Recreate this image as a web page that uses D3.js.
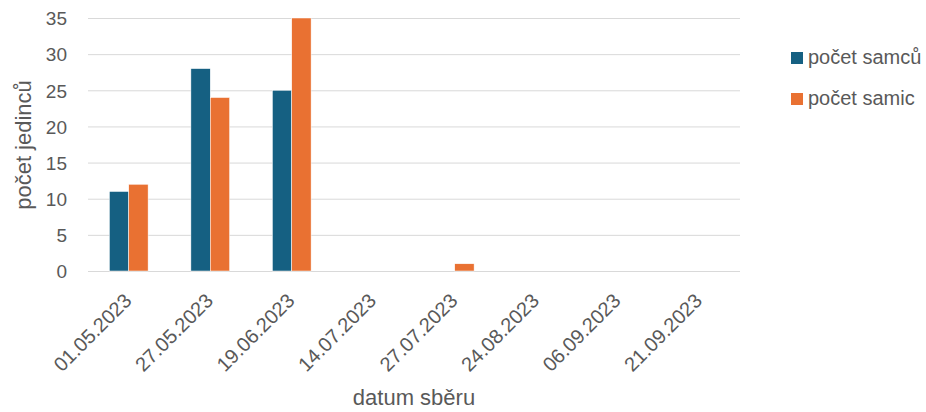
<!DOCTYPE html>
<html>
<head>
<meta charset="utf-8">
<script src="https://cdn.jsdelivr.net/npm/d3@7"></script>
<style>
  body { margin: 0; background: #fff; }
  text { font-family: "Liberation Sans", Arial, sans-serif; fill: #595959; }
</style>
</head>
<body>
<svg width="926" height="412"></svg>
<script>
var dates = ["01.05.2023", "27.05.2023", "19.06.2023", "14.07.2023", "27.07.2023", "24.08.2023", "06.09.2023", "21.09.2023"];
var samci = [11, 28, 25, 0, 0, 0, 0, 0];
var samice = [12, 24, 35, 0, 1, 0, 0, 0];
var seriesNames = ["počet samců", "počet samic"];
var yTicks = [0, 5, 10, 15, 20, 25, 30, 35];

var colors = ["#156082", "#e97132"];

var svg = d3.select("svg"),
    plotLeft = 88, plotRight = 740, plotTop = 18, plotBottom = 271;

var x = d3.scaleBand().domain(dates).range([plotLeft, plotRight]).paddingInner(0.525).paddingOuter(0.2625);
var xs = d3.scaleBand().domain([0, 1]).range([0, x.bandwidth()]);
var y = d3.scaleLinear().domain([0, 35]).range([plotBottom, plotTop]);

// grid
svg.append("g")
  .selectAll("line")
  .data(yTicks)
  .enter().append("line")
  .attr("x1", plotLeft).attr("x2", plotRight)
  .attr("y1", d => y(d) + 0.5).attr("y2", d => y(d) + 0.5)
  .style("stroke", "#d9d9d9").style("stroke-width", 1);

var yAxis = svg.append("g")
  .attr("transform", "translate(" + (plotLeft - 21) + ",0)")
  .call(d3.axisLeft(y).tickValues(yTicks).tickSize(0).tickPadding(0));
yAxis.select(".domain").remove();
yAxis.selectAll("text").style("font-size", "19px").style("fill", "#595959").attr("dy", "0.36em");

var data = dates.map((d, i) => ({date: d, vals: [samci[i], samice[i]]}));

var groups = svg.append("g")
  .selectAll("g")
  .data(data)
  .enter().append("g")
  .attr("transform", d => "translate(" + x(d.date) + ",0)");

groups.selectAll("rect")
  .data(d => d.vals.map((v, k) => ({k: k, v: v})))
  .enter().append("rect")
  .attr("x", d => xs(d.k))
  .attr("width", xs.bandwidth())
  .attr("y", d => y(d.v))
  .attr("height", d => plotBottom - y(d.v))
  .style("fill", d => colors[d.k])
  .style("stroke", "#fff").style("stroke-width", 0.5);

var xAxis = svg.append("g")
  .attr("transform", "translate(0," + plotBottom + ")")
  .call(d3.axisBottom(x).tickSize(0).tickPadding(0));
xAxis.select(".domain").remove();
xAxis.selectAll("text")
  .style("font-size", "20px").style("fill", "#595959")
  .attr("text-anchor", "end")
  .attr("y", 0)
  .attr("dy", "0")
  .attr("transform", "translate(4,31) rotate(-45)");

svg.append("text")
  .attr("x", 414).attr("y", 405)
  .attr("text-anchor", "middle")
  .style("font-size", "22px")
  .text("datum sběru");

svg.append("text")
  .attr("transform", "translate(31,145) rotate(-90)")
  .attr("text-anchor", "middle")
  .style("font-size", "22px")
  .text("počet jedinců");

var legend = svg.append("g")
  .selectAll("g")
  .data(seriesNames)
  .enter().append("g")
  .attr("transform", (d, i) => "translate(791," + (52 + i * 41) + ")");
legend.append("rect")
  .attr("width", 12).attr("height", 12)
  .style("fill", (d, i) => colors[i]);
legend.append("text")
  .attr("x", 17).attr("y", 11.5)
  .style("font-size", "20px")
  .text(d => d);
</script>
</body>
</html>
